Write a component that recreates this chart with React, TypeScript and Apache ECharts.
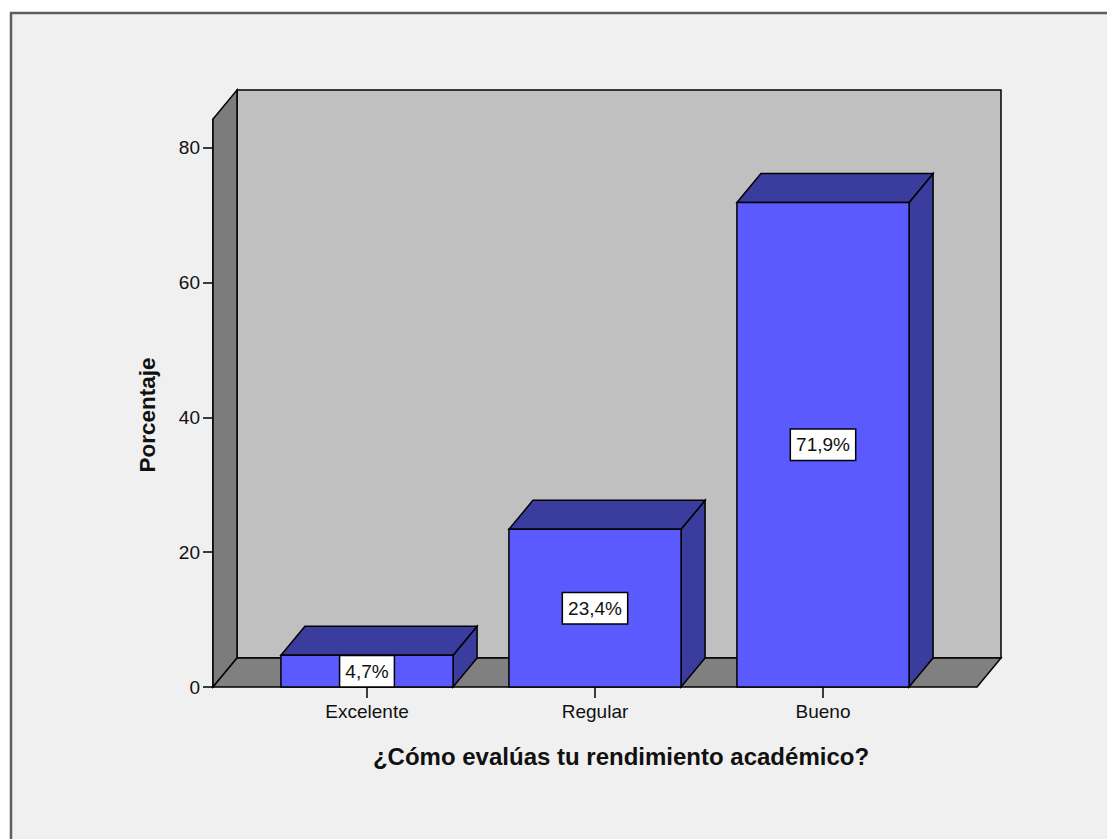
import React, { useEffect, useRef } from 'react';
import * as echarts from 'echarts';

// Chart data
const categories: string[] = ['Excelente', 'Regular', 'Bueno'];
const percentages: number[] = [4.7, 23.4, 71.9];
const yTicks: number[] = [0, 20, 40, 60, 80];
const yMax = 84.3;
const xTitle = '¿Cómo evalúas tu rendimiento académico?';
const yTitle = 'Porcentaje';

// 3D look: depth offset of the back plane and the floor margin around the bars
const DEPTH_X = 24;
const DEPTH_Y = -29;
const FLOOR_PAD = 40;
const BAR_RATIO = 0.755;
const EDGE = '#000000';
const EDGE_W = 1.5;
const FONT = "'Liberation Sans', Arial, sans-serif";

const fmt = (v: number) => v.toFixed(1).replace('.', ',') + '%';

const poly = (points: number[][], fill: string) => ({
  type: 'polygon',
  shape: { points },
  style: { fill, stroke: EDGE, lineWidth: EDGE_W, lineJoin: 'miter' },
});

export default function App() {
  const ref = useRef<HTMLDivElement>(null);

  useEffect(() => {
    const chart = echarts.init(ref.current!, null, { renderer: 'svg' });

    const renderWalls = (params: any) => {
      const cs = params.coordSys;
      const x0 = cs.x - FLOOR_PAD;
      const x1 = cs.x + cs.width + FLOOR_PAD;
      const yt = cs.y;
      const yb = cs.y + cs.height;
      const dx = DEPTH_X;
      const dy = DEPTH_Y;
      return {
        type: 'group',
        children: [
          poly(
            [
              [x0 + dx, yt + dy],
              [x1 + dx, yt + dy],
              [x1 + dx, yb + dy],
              [x0 + dx, yb + dy],
            ],
            '#c0c0c0'
          ),
          poly(
            [
              [x0, yb],
              [x0, yt],
              [x0 + dx, yt + dy],
              [x0 + dx, yb + dy],
            ],
            '#7c7c7c'
          ),
          poly(
            [
              [x0, yb],
              [x1, yb],
              [x1 + dx, yb + dy],
              [x0 + dx, yb + dy],
            ],
            '#808080'
          ),
        ],
      };
    };

    const renderBar = (params: any, api: any) => {
      const cat = api.value(0);
      const v = api.value(1);
      const top = api.coord([cat, v]);
      const base = api.coord([cat, 0]);
      const band = api.size([1, 0])[0];
      const w = band * BAR_RATIO;
      const cx = top[0];
      const x0 = cx - w / 2;
      const x1 = cx + w / 2;
      const yt = top[1];
      const yb = base[1];
      const dx = DEPTH_X;
      const dy = DEPTH_Y;
      return {
        type: 'group',
        children: [
          poly(
            [
              [x1, yt],
              [x1 + dx, yt + dy],
              [x1 + dx, yb + dy],
              [x1, yb],
            ],
            '#3a3c9e'
          ),
          poly(
            [
              [x0, yt],
              [x1, yt],
              [x1 + dx, yt + dy],
              [x0 + dx, yt + dy],
            ],
            '#3a3c9e'
          ),
          poly(
            [
              [x0, yt],
              [x1, yt],
              [x1, yb],
              [x0, yb],
            ],
            '#5a5aff'
          ),
          {
            type: 'text',
            x: cx,
            y: (yt + yb) / 2,
            style: {
              text: fmt(v),
              fill: '#111111',
              fontSize: 19,
              fontFamily: FONT,
              align: 'center',
              verticalAlign: 'middle',
              backgroundColor: '#ffffff',
              borderColor: '#000000',
              borderWidth: 1.5,
              padding: [6, 5, 5, 5],
            },
          },
        ],
      };
    };

    chart.setOption({
      animation: false,
      backgroundColor: '#ffffff',
      grid: { left: 253, top: 119, width: 684, height: 568 },
      xAxis: {
        type: 'category',
        data: categories,
        axisLine: { show: false },
        axisTick: {
          show: true,
          alignWithLabel: true,
          length: 11,
          lineStyle: { color: '#000', width: 1.5 },
        },
        axisLabel: {
          color: '#111111',
          fontSize: 19,
          fontFamily: FONT,
          margin: 15,
        },
        splitLine: { show: false },
      },
      yAxis: {
        type: 'value',
        min: 0,
        max: yMax,
        offset: FLOOR_PAD,
        axisLine: { show: true, lineStyle: { color: '#000', width: 1.5 } },
        axisTick: {
          show: true,
          length: 10,
          customValues: yTicks,
          lineStyle: { color: '#000', width: 1.5 },
        },
        axisLabel: {
          customValues: yTicks,
          color: '#111111',
          fontSize: 19,
          fontFamily: FONT,
          margin: 13,
        },
        splitLine: { show: false },
      },
      graphic: [
        {
          type: 'rect',
          z: -100,
          shape: { x: 11, y: 13, width: 1300, height: 1000 },
          style: { fill: '#f0f0f0', stroke: '#5e5e5e', lineWidth: 2.5 },
        },
        {
          type: 'text',
          z: 100,
          x: 621,
          y: 756,
          style: {
            text: xTitle,
            fill: '#111111',
            fontSize: 24,
            fontWeight: 'bold',
            fontFamily: FONT,
            align: 'center',
            verticalAlign: 'middle',
          },
        },
        {
          type: 'text',
          z: 100,
          x: 147,
          y: 415,
          rotation: Math.PI / 2,
          style: {
            text: yTitle,
            fill: '#111111',
            fontSize: 22.5,
            fontWeight: 'bold',
            fontFamily: FONT,
            align: 'center',
            verticalAlign: 'middle',
          },
        },
      ],
      series: [
        {
          type: 'custom',
          name: 'walls',
          z: 1,
          silent: true,
          data: [[0, 0]],
          renderItem: renderWalls,
        },
        {
          type: 'custom',
          name: 'Porcentaje',
          z: 3,
          data: percentages.map((v, i) => [i, v]),
          encode: { x: 0, y: 1 },
          renderItem: renderBar,
        },
      ],
    });

    return () => chart.dispose();
  }, []);

  return (
    <div
      ref={ref}
      style={{ position: 'absolute', left: 0, top: 0, width: 1107, height: 839 }}
    />
  );
}
